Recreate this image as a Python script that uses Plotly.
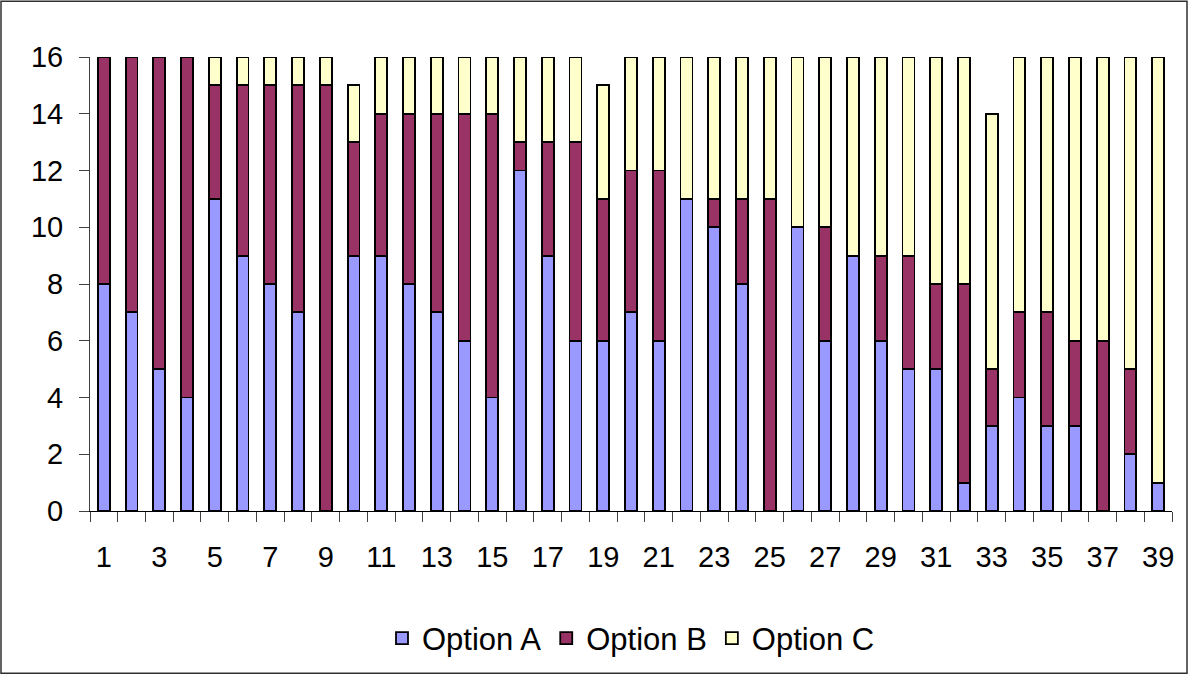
import plotly.graph_objects as go

categories = list(range(1, 40))
option_a = [8, 7, 5, 4, 11, 9, 8, 7, 0, 9, 9, 8, 7, 6, 4, 12, 9, 6, 6, 7,
            6, 11, 10, 8, 0, 10, 6, 9, 6, 5, 5, 1, 3, 4, 3, 3, 0, 2, 1]
option_b = [8, 9, 11, 12, 4, 6, 7, 8, 15, 4, 5, 6, 7, 8, 10, 1, 4, 7, 5, 5,
            6, 0, 1, 3, 11, 0, 4, 0, 3, 4, 3, 7, 2, 3, 4, 3, 6, 3, 0]
option_c = [0, 0, 0, 0, 1, 1, 1, 1, 1, 2, 2, 2, 2, 2, 2, 3, 3, 3, 4, 4,
            4, 5, 5, 5, 5, 6, 6, 7, 7, 7, 8, 8, 9, 9, 9, 10, 10, 11, 15]
tick_labels = [str(v) for v in categories if v % 2 == 1]
tick_vals = [v for v in categories if v % 2 == 1]
y_ticks = [0, 2, 4, 6, 8, 10, 12, 14, 16]

W, H = 1188, 677
ml, mr, mt, mb = 90, 16, 57, 164
pw, ph = W - ml - mr, H - mt - mb

font = "Liberation Sans, Arial, sans-serif"
line = dict(color="black", width=1.8)

fig = go.Figure()
for name, vals, col in [("Option A", option_a, "#9999FF"),
                        ("Option B", option_b, "#993366"),
                        ("Option C", option_c, "#FFFFCC")]:
    fig.add_trace(go.Bar(x=categories, y=vals, name=name,
                         marker=dict(color=col, line=line)))

fig.update_layout(
    barmode="stack",
    bargap=0.57,
    width=W, height=H,
    margin=dict(l=ml, r=mr, t=mt, b=mb),
    paper_bgcolor="white", plot_bgcolor="white",
    font=dict(family=font, size=29, color="black"),
    showlegend=True,
    legend=dict(orientation="h", x=0.5, xanchor="center",
                y=(mt + ph - 641) / ph, yanchor="middle",
                font=dict(size=31), traceorder="normal",
                itemwidth=30),
    xaxis=dict(range=[0.5, 39.5], tickmode="array", tickvals=tick_vals,
               ticktext=tick_labels, ticks="outside", ticklen=10,
               tickcolor="rgba(0,0,0,0)", showline=True, linecolor="black",
               linewidth=1, showgrid=False, zeroline=False,
               ticklabelstandoff=10,
               minor=dict(tickmode="array",
                          tickvals=[v + 0.5 for v in range(0, 40)],
                          ticks="outside", ticklen=10, tickcolor="#404040",
                          tickwidth=1, showgrid=False)),
    yaxis=dict(range=[0, 16], tickvals=y_ticks,
               ticks="outside", ticklen=10, tickcolor="#404040",
               showline=True, linecolor="#404040", linewidth=1,
               showgrid=False, zeroline=False, ticklabelstandoff=10),
)

fig.add_shape(type="rect", xref="paper", yref="paper",
              x0=-(ml - 1) / pw, x1=(pw + mr - 1) / pw,
              y0=-(mb - 1) / ph, y1=(ph + mt - 1) / ph,
              line=dict(color="#303030", width=1.5), layer="below")

fig.write_html("out.html",
               config={"displayModeBar": False},
               post_script="document.body.style.margin='0';"
                           "document.body.style.overflow='hidden';")
